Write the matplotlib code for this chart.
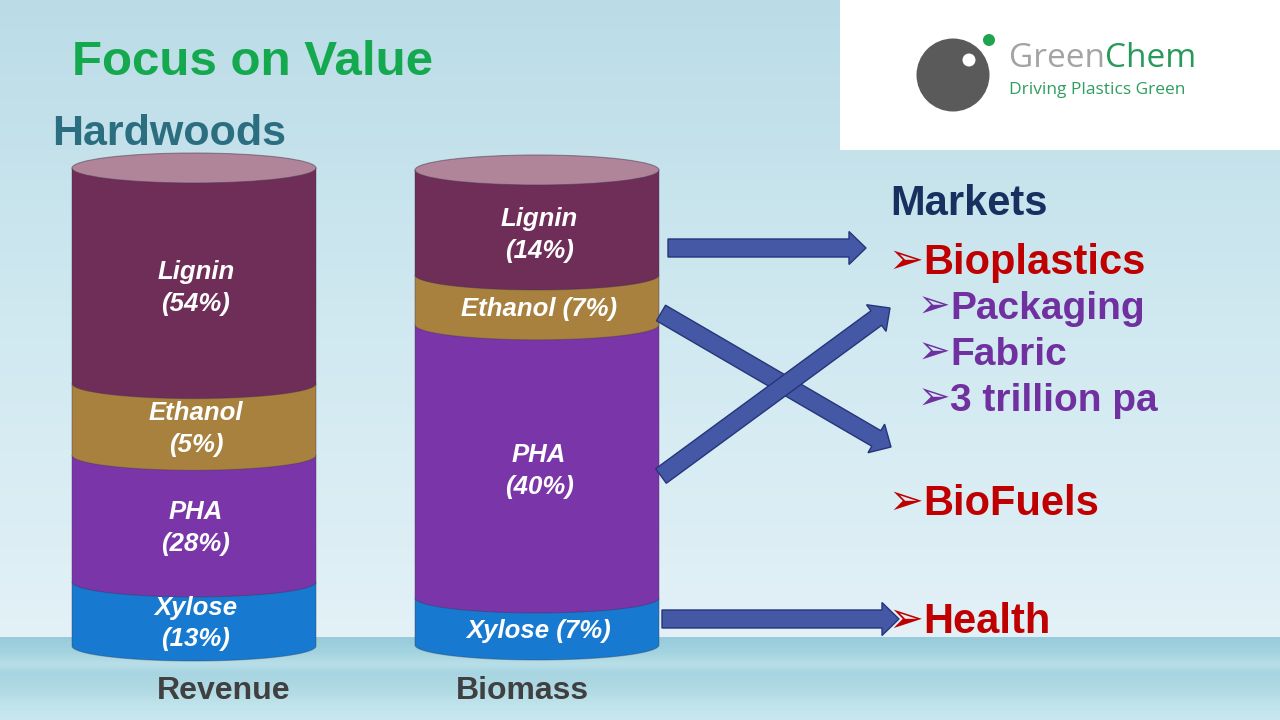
import numpy as np
import matplotlib
matplotlib.use('Agg')
import matplotlib.pyplot as plt
from matplotlib.patches import Polygon, Ellipse, Rectangle, Circle, FancyArrow
from matplotlib.colors import to_rgb

plt.rcParams['font.family'] = ['Liberation Sans', 'DejaVu Sans']

# ---------------- data ----------------
components = ['Xylose', 'PHA', 'Ethanol', 'Lignin']          # bottom -> top
revenue_pct = [13, 28, 5, 54]
biomass_pct = [7, 40, 7, 14]
# drawn share of each band (read from the picture, not proportional to pct)
revenue_drawn = [13.4, 26.5, 15.0, 45.1]
biomass_drawn = [9.9, 57.5, 10.5, 22.1]
revenue_sep = ['\n', '\n', '\n', '\n']
biomass_sep = [' ', '\n', ' ', '\n']
cylinder_names = ['Revenue', 'Biomass']
market_items = ['Bioplastics', 'Packaging', 'Fabric', '3 trillion pa', 'BioFuels', 'Health']
market_level = [0, 1, 1, 1, 0, 0]

seg_colors = ['#177AD0', '#7A36A8', '#A8813F', '#6F2E57']
top_color = '#B08499'

# ---------------- figure ----------------
fig = plt.figure(figsize=(12.8, 7.2), dpi=100)
ax = fig.add_axes([0, 0, 1, 1])
ax.set_xlim(0, 1280)
ax.set_ylim(720, 0)
ax.axis('off')

# background gradient with sea at bottom
stops = [(0, '#BBDCE7'), (300, '#CFE8F0'), (600, '#E0F0F6'), (636, '#E4F2F7'),
         (637, '#98CCDA'), (652, '#A3D3DF'), (664, '#B9DFE8'), (672, '#A7D5E1'),
         (690, '#B0DAE4'), (705, '#C2E4EC'), (720, '#C8E7EE')]
ys = np.arange(720)
sy = [s[0] for s in stops]
cols = np.array([to_rgb(s[1]) for s in stops])
bg = np.stack([np.interp(ys, sy, cols[:, k]) for k in range(3)], axis=1)
bg = bg[:, None, :]
ax.imshow(bg, extent=[0, 1280, 720, 0], aspect='auto', zorder=0, interpolation='bilinear')


def cylinder(x0, x1, y_bottom, total_h, shares, ry=15):
    xc = (x0 + x1) / 2
    rx = (x1 - x0) / 2
    tot = sum(shares)
    t = np.linspace(0, np.pi, 80)
    yb = y_bottom
    bands = []
    for i, (s, c) in enumerate(zip(shares, seg_colors)):
        h = s / tot * total_h
        yt = yb - h
        pts = [(x0, yt), (x1, yt)] + list(zip(xc + rx * np.cos(t), yb + ry * np.sin(t)))
        ax.add_patch(Polygon(pts, closed=True, fc=c, ec=(0.2, 0.2, 0.3, 0.35),
                             lw=0.8, zorder=2 + i))
        bands.append((yt, yb))
        yb = yt
    ax.add_patch(Ellipse((xc, yb), 2 * rx, 2 * ry, fc=top_color,
                         ec=(0.3, 0.2, 0.3, 0.5), lw=0.8, zorder=10))
    return xc, bands, ry


cyls = [(72, 316, 646, 478, revenue_drawn, revenue_pct, revenue_sep, 157),
        (415, 659, 645, 475, biomass_drawn, biomass_pct, biomass_sep, 456)]
for (x0, x1, yb0, H, shares, pct, sep, xlab), name in zip(cyls, cylinder_names):
    xc, bands, ry = cylinder(x0, x1, yb0, H, shares)
    n = len(bands)
    for i, ((yt, yb), comp, p, sp) in enumerate(zip(bands, components, pct, sep)):
        if i == n - 1:
            yc = (yt + ry + yb) / 2 + 3
        else:
            yc = (yt + yb) / 2 + ry * 0.5
        ax.text(xc + 2, yc + 2, f'{comp}{sp}({p}%)', ha='center', va='center', color='white',
                fontsize=18.5, fontweight='bold', fontstyle='italic',
                linespacing=1.4, zorder=20)
    ax.text(xlab, 699, name, ha='left', va='baseline', color='#404040',
            fontsize=23, fontweight='bold', zorder=20)

# ---------------- arrows ----------------
arrows = [((668, 248), (866, 248)), ((661, 313), (891, 447)),
          ((661, 476), (890, 308)), ((662, 619), (899, 619))]
for (xa, ya), (xb, yb) in arrows:
    ax.add_patch(FancyArrow(xa, ya, xb - xa, yb - ya, width=18, head_width=33,
                            head_length=17, length_includes_head=True,
                            fc='#4458A5', ec='#26357A', lw=1.0, zorder=15))

# ---------------- titles ----------------
ax.text(72, 75, 'Focus on Value', color='#14A94F', fontsize=35.5, fontweight='bold',
        va='baseline', ha='left', zorder=20)
ax.text(52, 145, 'Hardwoods', color='#2A6E80', fontsize=31, fontweight='bold',
        va='baseline', ha='left', zorder=20)

# ---------------- markets ----------------
ax.text(890, 215, 'Markets', color='#17305F', fontsize=30, fontweight='bold',
        va='baseline', ha='left', zorder=20)
baselines = [274, 319, 365, 411, 515, 633]
for item, lvl, yb in zip(market_items, market_level, baselines):
    if lvl == 0:
        col, fs, xb, xt = '#C00000', 30, 888, 923
    else:
        col, fs, xb, xt = '#7030A0', 28, 918, 950
    ax.text(xb, yb - 1, '\u27a2', color=col, fontsize=fs, family='DejaVu Sans',
            va='baseline', ha='left', zorder=20)
    ax.text(xt, yb, item, color=col, fontsize=fs, fontweight='bold',
            va='baseline', ha='left', zorder=20)

# ---------------- logo ----------------
ax.add_patch(Rectangle((840, 0), 440, 150, fc='white', ec='none', zorder=5))
ax.add_patch(Circle((953, 75), 36.5, fc='#5A5A5A', ec='none', zorder=6))
ax.add_patch(Circle((969, 60), 6.5, fc='white', ec='none', zorder=7))
ax.add_patch(Circle((989, 40), 6, fc='#1FA34F', ec='none', zorder=7))
t1 = ax.text(1009, 67, 'Green', color='#A3A3A3', fontsize=24, family='Open Sans',
             va='baseline', ha='left', zorder=8)
ax.annotate('Chem', xy=(1, 0), xycoords=t1, color='#28995A', fontsize=24,
            family='Open Sans', va='bottom', ha='left', zorder=8)
ax.text(1009, 94, 'Driving Plastics Green', color='#2E9E5E', fontsize=12.5,
        family='Open Sans', va='baseline', ha='left', zorder=8)

fig.savefig('out.png', dpi=100)
